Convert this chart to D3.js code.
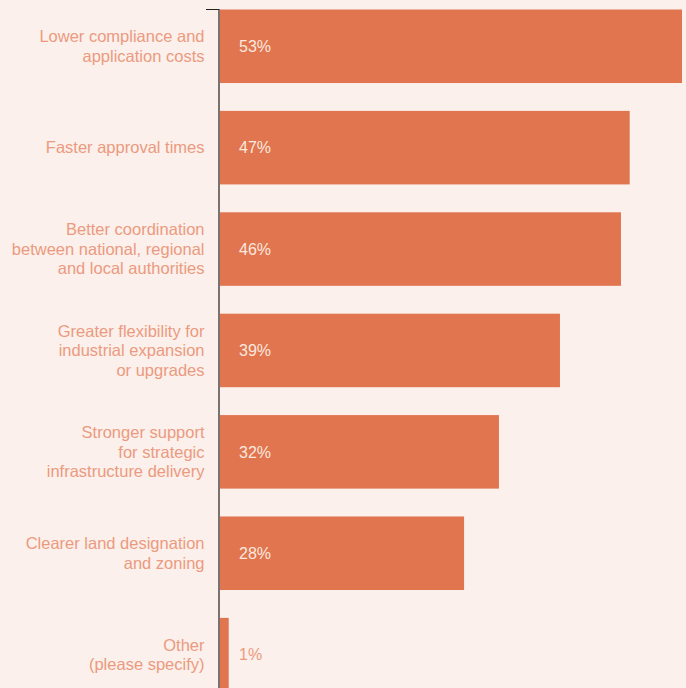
<!DOCTYPE html>
<html>
<head>
<meta charset="utf-8">
<script src="https://cdn.jsdelivr.net/npm/d3@7"></script>
<style>
  html, body { margin: 0; padding: 0; background: #fbf0eb; overflow: hidden; }
  svg { display: block; }
  text { font-family: "Liberation Sans", Arial, Helvetica, sans-serif; }
</style>
</head>
<body>
<svg id="chart" width="686" height="688"></svg>
<script>
// Survey answers: which planning reforms matter most
const categories = [
  ["Lower compliance and", "application costs"],
  ["Faster approval times"],
  ["Better coordination", "between national, regional", "and local authorities"],
  ["Greater flexibility for", "industrial expansion", "or upgrades"],
  ["Stronger support", "for strategic", "infrastructure delivery"],
  ["Clearer land designation", "and zoning"],
  ["Other", "(please specify)"]
];
const values = [53, 47, 46, 39, 32, 28, 1];
const valueLabels = values.map(v => v + "%");

const W = 686, H = 688;
const left = 220, right = 682;
const svg = d3.select("#chart");

const keys = categories.map((c, i) => i);
const x = d3.scaleLinear().domain([0, 53]).range([left, right]);
const y = d3.scaleBand().domain(keys).range([9.5, 691.4]).paddingInner(0.275).paddingOuter(0);

// bars
svg.append("g").selectAll("rect").data(values).join("rect")
  .attr("x", x(0))
  .attr("y", (d, i) => y(i))
  .attr("width", d => x(d) - x(0))
  .attr("height", y.bandwidth())
  .attr("fill", "#e07550");

// value labels at a fixed offset from the axis; light on the bar, orange when the bar is too short
svg.append("g").selectAll("text").data(values).join("text")
  .attr("x", x(0) + 19)
  .attr("y", (d, i) => y(i) + y.bandwidth() / 2)
  .attr("dy", "0.36em")
  .attr("font-size", 16)
  .attr("fill", d => (x(d) - x(0) > 40 ? "#fce8de" : "#ec9a7f"))
  .text((d, i) => valueLabels[i]);

// category labels, right aligned against the axis
const lineH = 19.5;
const cat = svg.append("g").selectAll("text").data(categories).join("text")
  .attr("text-anchor", "end")
  .attr("font-size", 16.5)
  .attr("fill", "#ec9a7f")
  .attr("y", (d, i) => y(i) + y.bandwidth() / 2 - (d.length - 1) * lineH / 2);
cat.each(function(lines) {
  const t = d3.select(this);
  lines.forEach((s, j) => {
    t.append("tspan").attr("x", 204.5).attr("dy", j === 0 ? "0.35em" : lineH).text(s);
  });
});

// vertical axis with a single top tick
const axis = svg.append("g").attr("stroke", "#222").attr("stroke-width", 1.2).attr("fill", "none");
axis.append("path").attr("d", `M206,${y.range()[0]}H${left - 1}V${H}`);
</script>
</body>
</html>
